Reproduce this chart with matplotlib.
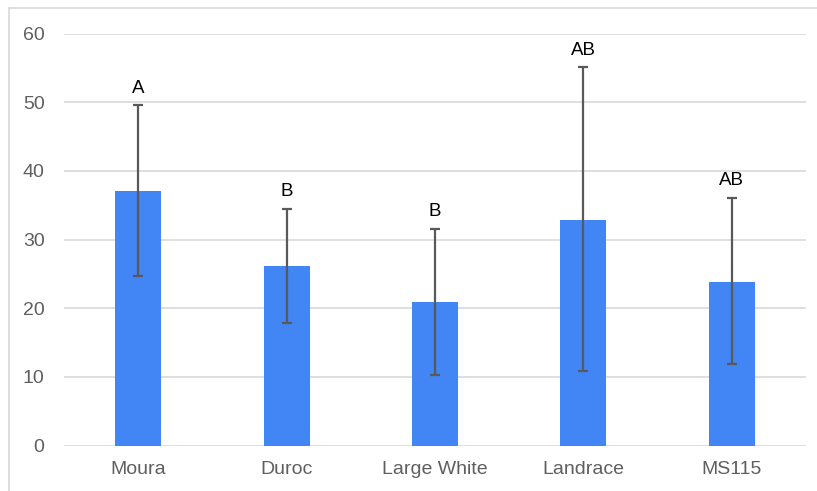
import matplotlib
matplotlib.use("Agg")
import matplotlib.pyplot as plt
from matplotlib.lines import Line2D

categories = ["Moura", "Duroc", "Large White", "Landrace", "MS115"]
means = [37.1, 26.1, 20.9, 32.8, 23.85]
err_low = [12.4, 8.2, 10.7, 21.9, 12.05]
err_high = [12.5, 8.4, 10.7, 22.3, 12.25]
letters = ["A", "B", "B", "AB", "AB"]
yticks = [0, 10, 20, 30, 40, 50, 60]

plt.rcParams['font.family'] = ['Liberation Sans', 'DejaVu Sans']

fig = plt.figure(figsize=(8.17, 4.91), dpi=100)
ax = fig.add_axes([64/817, 1-445.5/491, (806-64)/817, (445.5-33.5)/491])

x = list(range(len(categories)))
ax.bar(x, means, width=0.31, color='#4285F4', zorder=2)
ax.errorbar(x, means, yerr=[err_low, err_high], fmt='none', ecolor='#595959',
            elinewidth=1.6, capsize=3.6, capthick=1.6, zorder=3)
for xi, m, eh, lab in zip(x, means, err_high, letters):
    ax.annotate(lab, (xi, m + eh), xytext=(0, 6), textcoords='offset points',
                ha='center', va='bottom', fontsize=13.5, color='black')

ax.set_xlim(-0.5, len(categories) - 0.5)
ax.set_ylim(0, 60)
ax.set_yticks(yticks)
ax.set_xticks(x)
ax.set_xticklabels(categories)
ax.yaxis.grid(True, color='#d9d9d9', linewidth=1.2, zorder=0)
ax.set_axisbelow(True)
for s in ax.spines.values():
    s.set_visible(False)
ax.tick_params(axis='both', length=0, labelsize=14, colors='#5f5f5f')
ax.tick_params(axis='y', pad=14)
ax.tick_params(axis='x', pad=11)

# outer frame lines (top and left)
fig.add_artist(Line2D([9/817, 1], [1-8/491, 1-8/491], color='#d9d9d9', lw=1.2, transform=fig.transFigure))
fig.add_artist(Line2D([9/817, 9/817], [0, 1-8/491], color='#d9d9d9', lw=1.2, transform=fig.transFigure))

fig.savefig("out.png", dpi=100)
